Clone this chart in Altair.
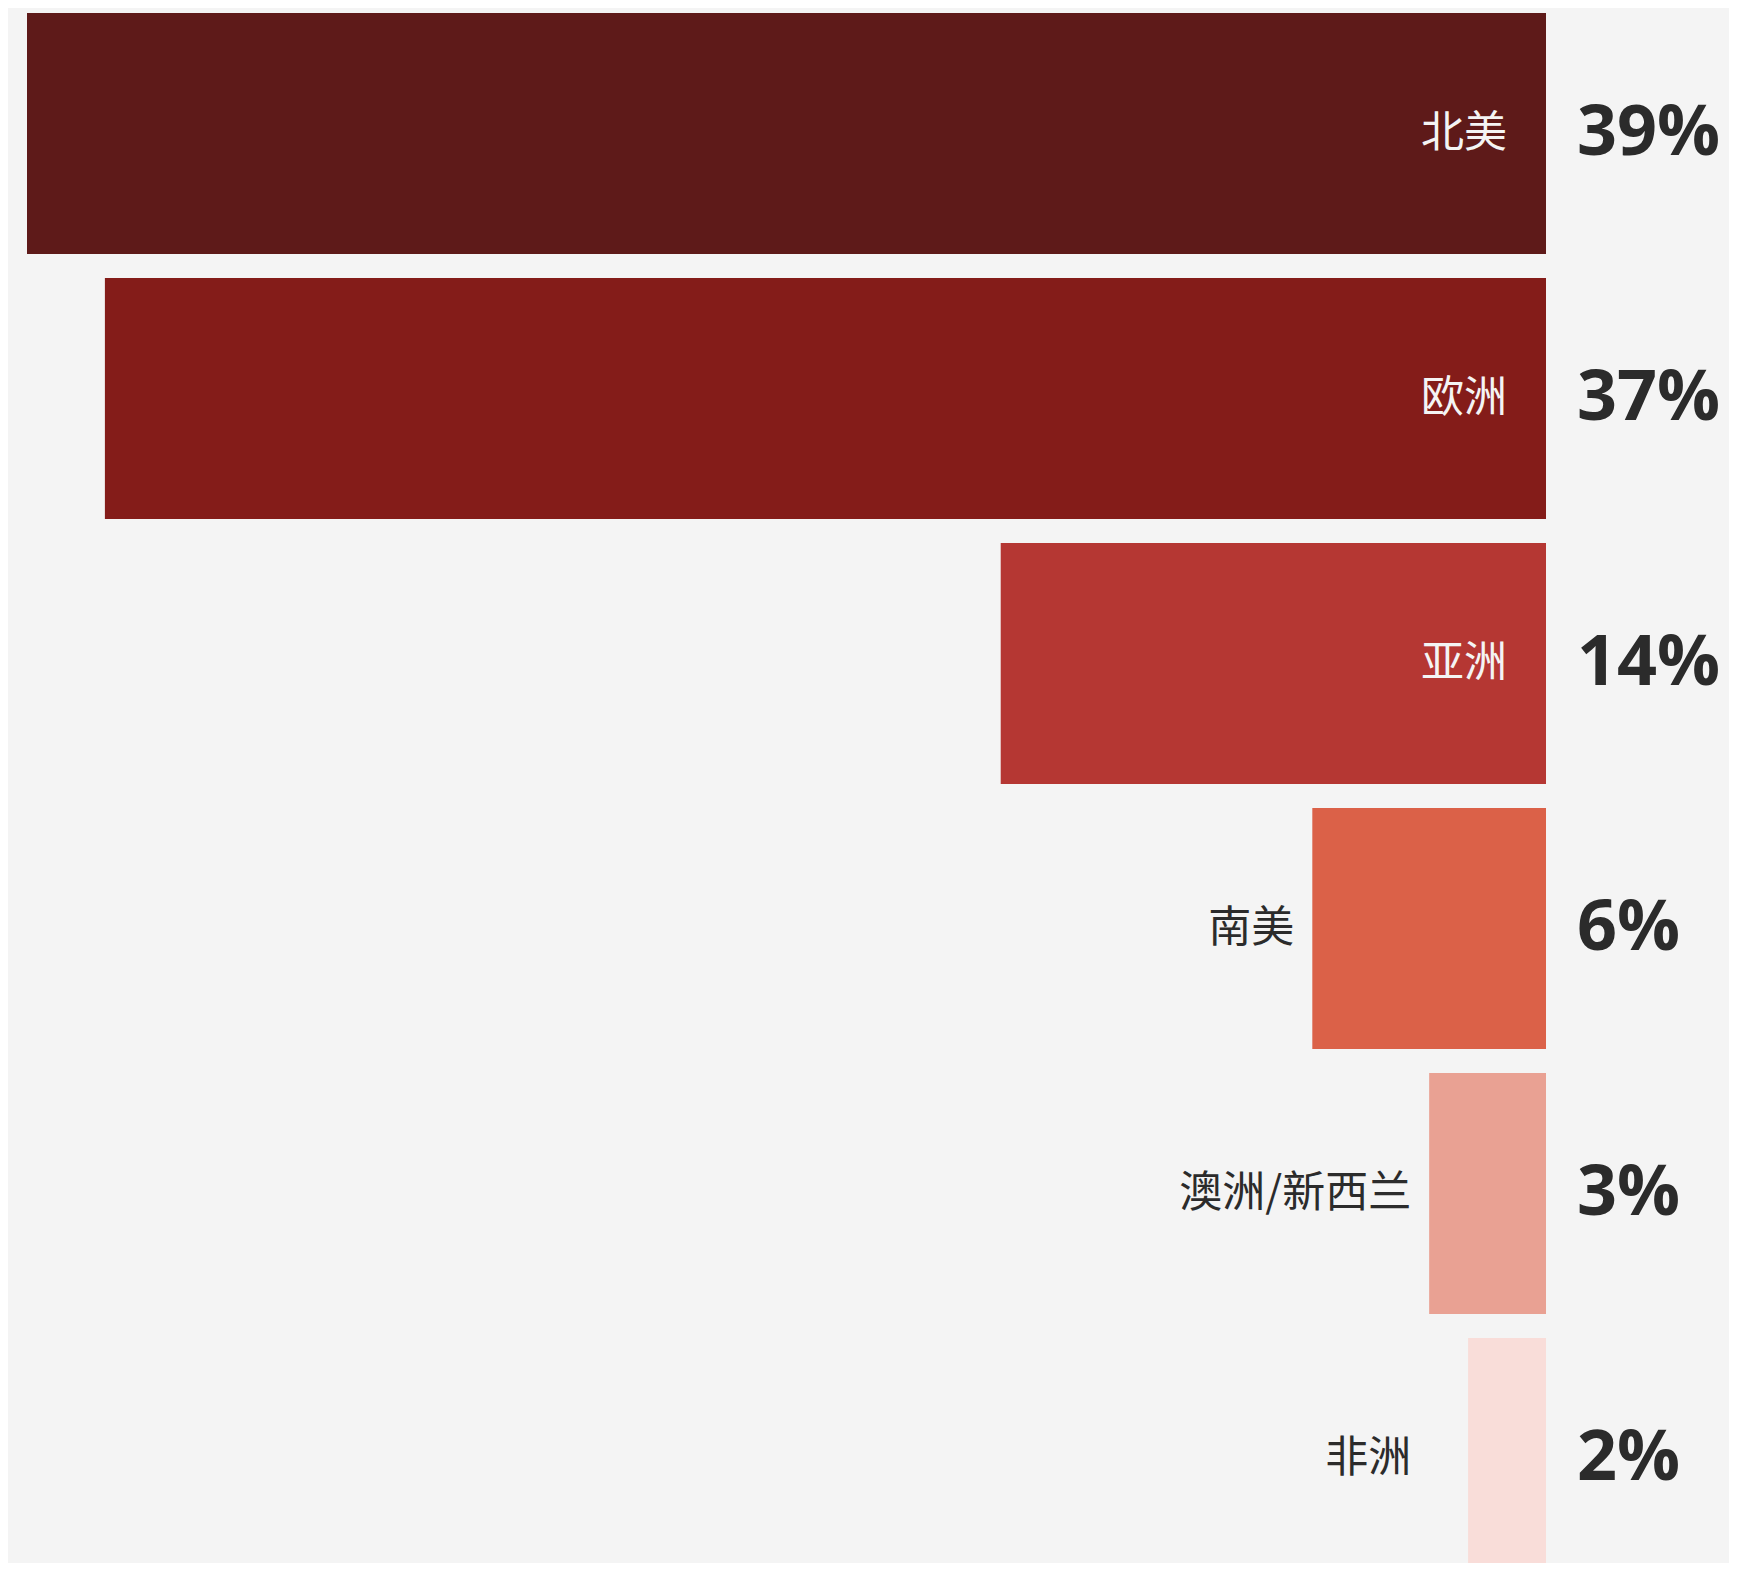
import altair as alt
import pandas as pd

categories = ["北美", "欧洲", "亚洲", "南美", "澳洲/新西兰", "非洲"]
values = [39, 37, 14, 6, 3, 2]
colors = ["#5e1a19", "#841c19", "#b53733", "#db6148", "#e9a193", "#f9ddd9"]

df = pd.DataFrame({"cat": categories, "val": values, "color": colors})
df["pct"] = df["val"].astype(str) + "%"
df["inside"] = df["val"] >= 10
df["anchor"] = df["val"].clip(lower=3)
df["base"] = 0

W = 1538
H = 1555
xmax = 39 * W / 1519
x_scale = alt.Scale(domain=[0, xmax], reverse=True, nice=False, zero=True)
step = 265
pin = 24 / 265
y_scale = alt.Scale(range=[5, 5 + step * (len(categories) - pin)], paddingInner=pin, paddingOuter=0)

y_enc = alt.Y("cat:N", sort=categories, scale=y_scale, axis=None)

base = alt.Chart(df)

bars = base.mark_bar(clip=True).encode(
    x=alt.X("val:Q", scale=x_scale, axis=None),
    x2="base:Q",
    y=y_enc,
    color=alt.Color("color:N", scale=None, legend=None),
)

inside = base.transform_filter("datum.inside").mark_text(
    align="right", baseline="middle", dx=-39, fontSize=43,
    font="Noto Sans CJK SC", color="#f4f4f4"
).encode(
    x=alt.X("base:Q", scale=x_scale, axis=None),
    y=y_enc,
    text="cat:N",
)

outside = base.transform_filter("!datum.inside").mark_text(
    align="right", baseline="middle", dx=-18, fontSize=43,
    font="Noto Sans CJK SC", color="#2b2b2b"
).encode(
    x=alt.X("anchor:Q", scale=x_scale, axis=None),
    y=y_enc,
    text="cat:N",
)

pct = base.mark_text(
    align="left", baseline="middle", dx=31, fontSize=70, fontWeight="bold",
    font="Open Sans", color="#2b2b2b"
).encode(
    x=alt.X("base:Q", scale=x_scale, axis=None),
    y=y_enc,
    text="pct:N",
)

chart = alt.layer(bars, inside, outside, pct).properties(
    width=W,
    height=H,
    autosize=alt.AutoSizeParams(type="none"),
    padding={"left": 0, "top": 0, "right": 183, "bottom": 0},
    background="#f4f4f4",
).configure_view(stroke=None)

chart.save("out.html", embed_options={"renderer": "svg", "actions": False})
